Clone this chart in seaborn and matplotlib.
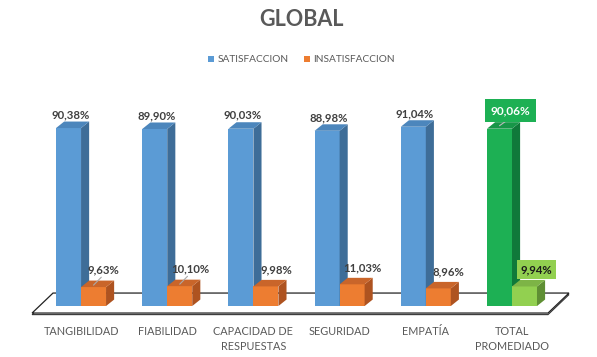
import matplotlib.pyplot as plt
import seaborn as sns
import pandas as pd
from matplotlib.patches import Polygon, Patch

categorias = ["TANGIBILIDAD", "FIABILIDAD", "CAPACIDAD DE\nRESPUESTAS",
              "SEGURIDAD", "EMPATÍA", "TOTAL\nPROMEDIADO"]
satisfaccion = [90.38, 89.90, 90.03, 88.98, 91.04, 90.06]
insatisfaccion = [9.63, 10.10, 9.98, 11.03, 8.96, 9.94]
series = ["SATISFACCION", "INSATISFACCION"]

# colores: frente, lateral, tapa
col_sat = ("#5B9BD5", "#3E6D98", "#4C86BC")
col_ins = ("#ED7D31", "#AE5320", "#C9652A")
col_tot_sat = ("#1DB054", "#10793A", "#179648")
col_tot_ins = ("#92D050", "#5F8F34", "#7DB446")

df = pd.DataFrame({
    "dimension": categorias * 2,
    "valor": satisfaccion + insatisfaccion,
    "serie": [series[0]] * len(categorias) + [series[1]] * len(categorias),
})

sns.set_style("white")
plt.rcParams["font.family"] = ["Lato", "DejaVu Sans"]

fig = plt.figure(figsize=(5.97, 3.57), dpi=100)
ax = fig.add_axes([0.0419, 0.0986, 0.924, 0.662])

sns.barplot(data=df, x="dimension", y="valor", hue="serie",
            palette=[col_sat[0], col_ins[0]], width=0.58, saturation=1,
            legend=False, ax=ax)

ax.set_xlim(-0.65, 5.75)
ax.set_ylim(-8, 112)

# profundidad 3D
dx, dy = 0.094, 3.3

# piso
piso = [(-0.568, -3.55), (5.418, -3.55), (5.661, 6.6), (-0.325, 6.6)]
grosor = [(x, y - 0.8) for x, y in piso]
ax.add_patch(Polygon(grosor, closed=True, facecolor="#F2F2F2", edgecolor="#333333",
                     lw=0.8, zorder=0.5))
ax.add_patch(Polygon(piso, closed=True, facecolor="white", edgecolor="#222222",
                     lw=0.9, zorder=0.6))

n = len(categorias)
for serie, cont in enumerate(ax.containers):
    for cat, b in enumerate(cont.patches):
        if cat == n - 1:
            colors = col_tot_sat if serie == 0 else col_tot_ins
        else:
            colors = col_sat if serie == 0 else col_ins
        z = 2 + serie * 2
        b.set_facecolor(colors[0])
        b.set_edgecolor("none")
        b.set_zorder(z)
        x0, w, h = b.get_x(), b.get_width(), b.get_height()
        side = [(x0 + w, 0), (x0 + w + dx, dy), (x0 + w + dx, h + dy), (x0 + w, h)]
        top = [(x0, h), (x0 + dx, h + dy), (x0 + w + dx, h + dy), (x0 + w, h)]
        ax.add_patch(Polygon(side, closed=True, facecolor=colors[1], edgecolor="none", zorder=z))
        ax.add_patch(Polygon(top, closed=True, facecolor=colors[2], edgecolor="none", zorder=z))

        cx = x0 + w / 2
        txt = f"{h:.2f}%".replace(".", ",")
        if serie == 0:
            if cat == n - 1:
                ax.text(cx + 0.13, h + 9.2, txt, ha="center", va="center", fontsize=8.5,
                        fontweight="bold", color="white", zorder=10,
                        bbox=dict(boxstyle="square,pad=0.5", fc=col_tot_sat[0], ec="none"))
                ax.plot([cx, cx + 0.08], [h + 1.5, h + 4], color="#BBBBBB", lw=0.8, zorder=9)
            else:
                ax.text(cx + 0.02, h + 6.8, txt, ha="center", va="center", fontsize=8.2,
                        fontweight="bold", color="#404040", zorder=10)
        else:
            if cat == n - 1:
                ax.text(cx + 0.14, h + 8.6, txt, ha="center", va="center", fontsize=8.2,
                        fontweight="bold", color="#1a1a1a", zorder=10,
                        bbox=dict(boxstyle="square,pad=0.35", fc=col_tot_ins[0], ec="none"))
            else:
                ax.text(cx + 0.12, h + 8.6, txt, ha="center", va="center", fontsize=8.2,
                        fontweight="bold", color="#404040", zorder=10)
                if cat < 2:
                    ax.plot([cx, cx + 0.09], [h + 1.0, h + 5.0], color="#AAAAAA",
                            lw=0.8, zorder=9)

ax.set_xticks(range(n))
ax.set_xticklabels(categorias, fontsize=7.8, color="#595959", linespacing=1.5)
ax.tick_params(axis="x", length=0, pad=3)
ax.set_yticks([])
ax.set_xlabel("")
ax.set_ylabel("")
sns.despine(ax=ax, left=True, bottom=True)

fig.text(0.505, 1 - 19 / 357, "GLOBAL", ha="center", va="center", fontsize=15.5,
         fontweight="bold", color="#595959")

handles = [Patch(facecolor=col_sat[0], edgecolor="none"),
           Patch(facecolor=col_ins[0], edgecolor="none")]
fig.legend(handles, series, loc="center", bbox_to_anchor=(0.505, 1 - 60 / 357),
           ncol=2, frameon=False, fontsize=7.3, labelcolor="#595959",
           handlelength=0.6, handleheight=0.6, handletextpad=0.3, columnspacing=1.5)

fig.savefig("out.png", dpi=100)
